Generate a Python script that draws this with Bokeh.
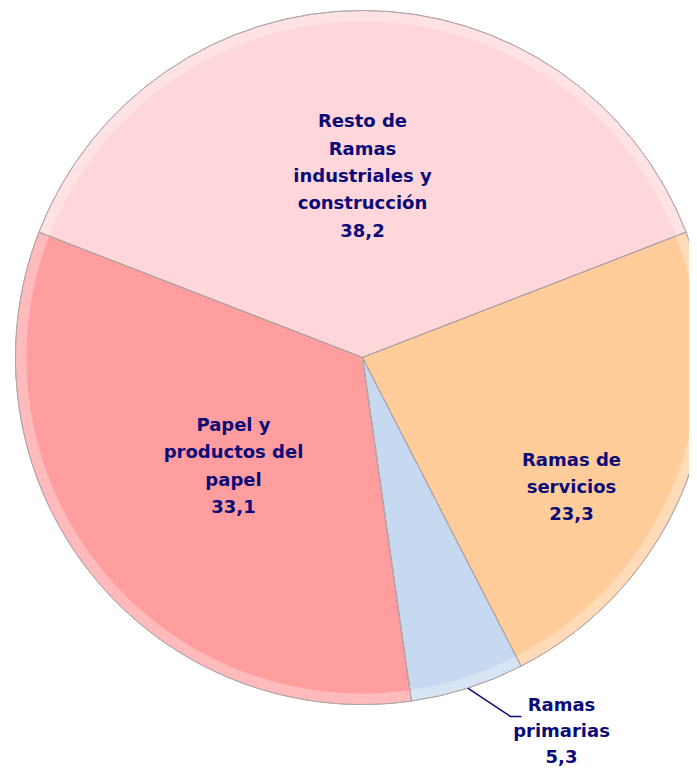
import numpy as np
from bokeh.plotting import figure
from bokeh.models import Range1d, ColumnDataSource
from bokeh.core.properties import value
from bokeh.embed import file_html
from bokeh.resources import INLINE

categories = ["Resto de\nRamas\nindustriales y\nconstrucción", "Papel y\nproductos del\npapel",
              "Ramas\nprimarias", "Ramas de\nservicios"]
values = [38.2, 33.1, 5.3, 23.3]
value_labels = ["38,2", "33,1", "5,3", "23,3"]
colors = ["#FFD6D9", "#FF9D9F", "#C6D9F0", "#FFCC9A"]

W, H = 689, 768
p = figure(width=W, height=H, output_backend="svg", toolbar_location=None,
           x_range=Range1d(0, W), y_range=Range1d(-H, 0),
           min_border=0)
p.axis.visible = False
p.grid.visible = False
p.outline_line_color = None
p.background_fill_color = "white"
p.border_fill_color = "white"

cx, cy, R = 362, -357, 347
vals = np.array(values)
frac = vals / vals.sum()
starts = np.zeros(4)
ends = np.zeros(4)
starts[0], ends[0] = np.pi / 2 - frac[0] * np.pi, np.pi / 2 + frac[0] * np.pi
starts[1:] = ends[0] + 2 * np.pi * np.concatenate([[0], np.cumsum(frac[1:])[:-1]])
ends[1:] = ends[0] + 2 * np.pi * np.cumsum(frac[1:])

src = ColumnDataSource(dict(start=starts, end=ends, color=colors))
p.wedge(x=cx, y=cy, radius=R, start_angle="start", end_angle="end",
        fill_color="color", line_color="#9A8C8C", line_width=1, source=src)
# bevel highlight ring
p.annular_wedge(x=cx, y=cy, inner_radius=R - 11, outer_radius=R, start_angle="start",
                end_angle="end", fill_color="white", fill_alpha=0.3, line_color=None, source=src)
p.wedge(x=cx, y=cy, radius=R, start_angle="start", end_angle="end",
        fill_color=None, line_color="#B8A8A8", line_width=1, line_alpha=0.8, source=src)

# labels
texts = [c + "\n" + v for c, v in zip(categories, value_labels)]
main_idx = [0, 1, 3]
p.text(x=[362, 233, 571], y=[-175, -465, -486], text=[texts[i] for i in main_idx],
       text_align="center", text_baseline="middle",
       text_font=value("DejaVu Sans"), text_font_style="bold", text_font_size="18px",
       text_color="#0A0A78", text_line_height=1.3)
p.text(x=[561], y=[-730], text=[texts[2]],
       text_align="center", text_baseline="middle",
       text_font=value("DejaVu Sans"), text_font_style="bold", text_font_size="18px",
       text_color="#0A0A78", text_line_height=1.22)

# leader line for Ramas primarias
mid = (starts[2] + ends[2]) / 2
lx0 = cx + R * np.cos(mid)
ly0 = cy + R * np.sin(mid)
p.line(x=[lx0, 510, 521], y=[ly0, -716, -716], line_color="#0A0A78", line_width=1.5)

open("out.html", "w").write(file_html(p, INLINE))
